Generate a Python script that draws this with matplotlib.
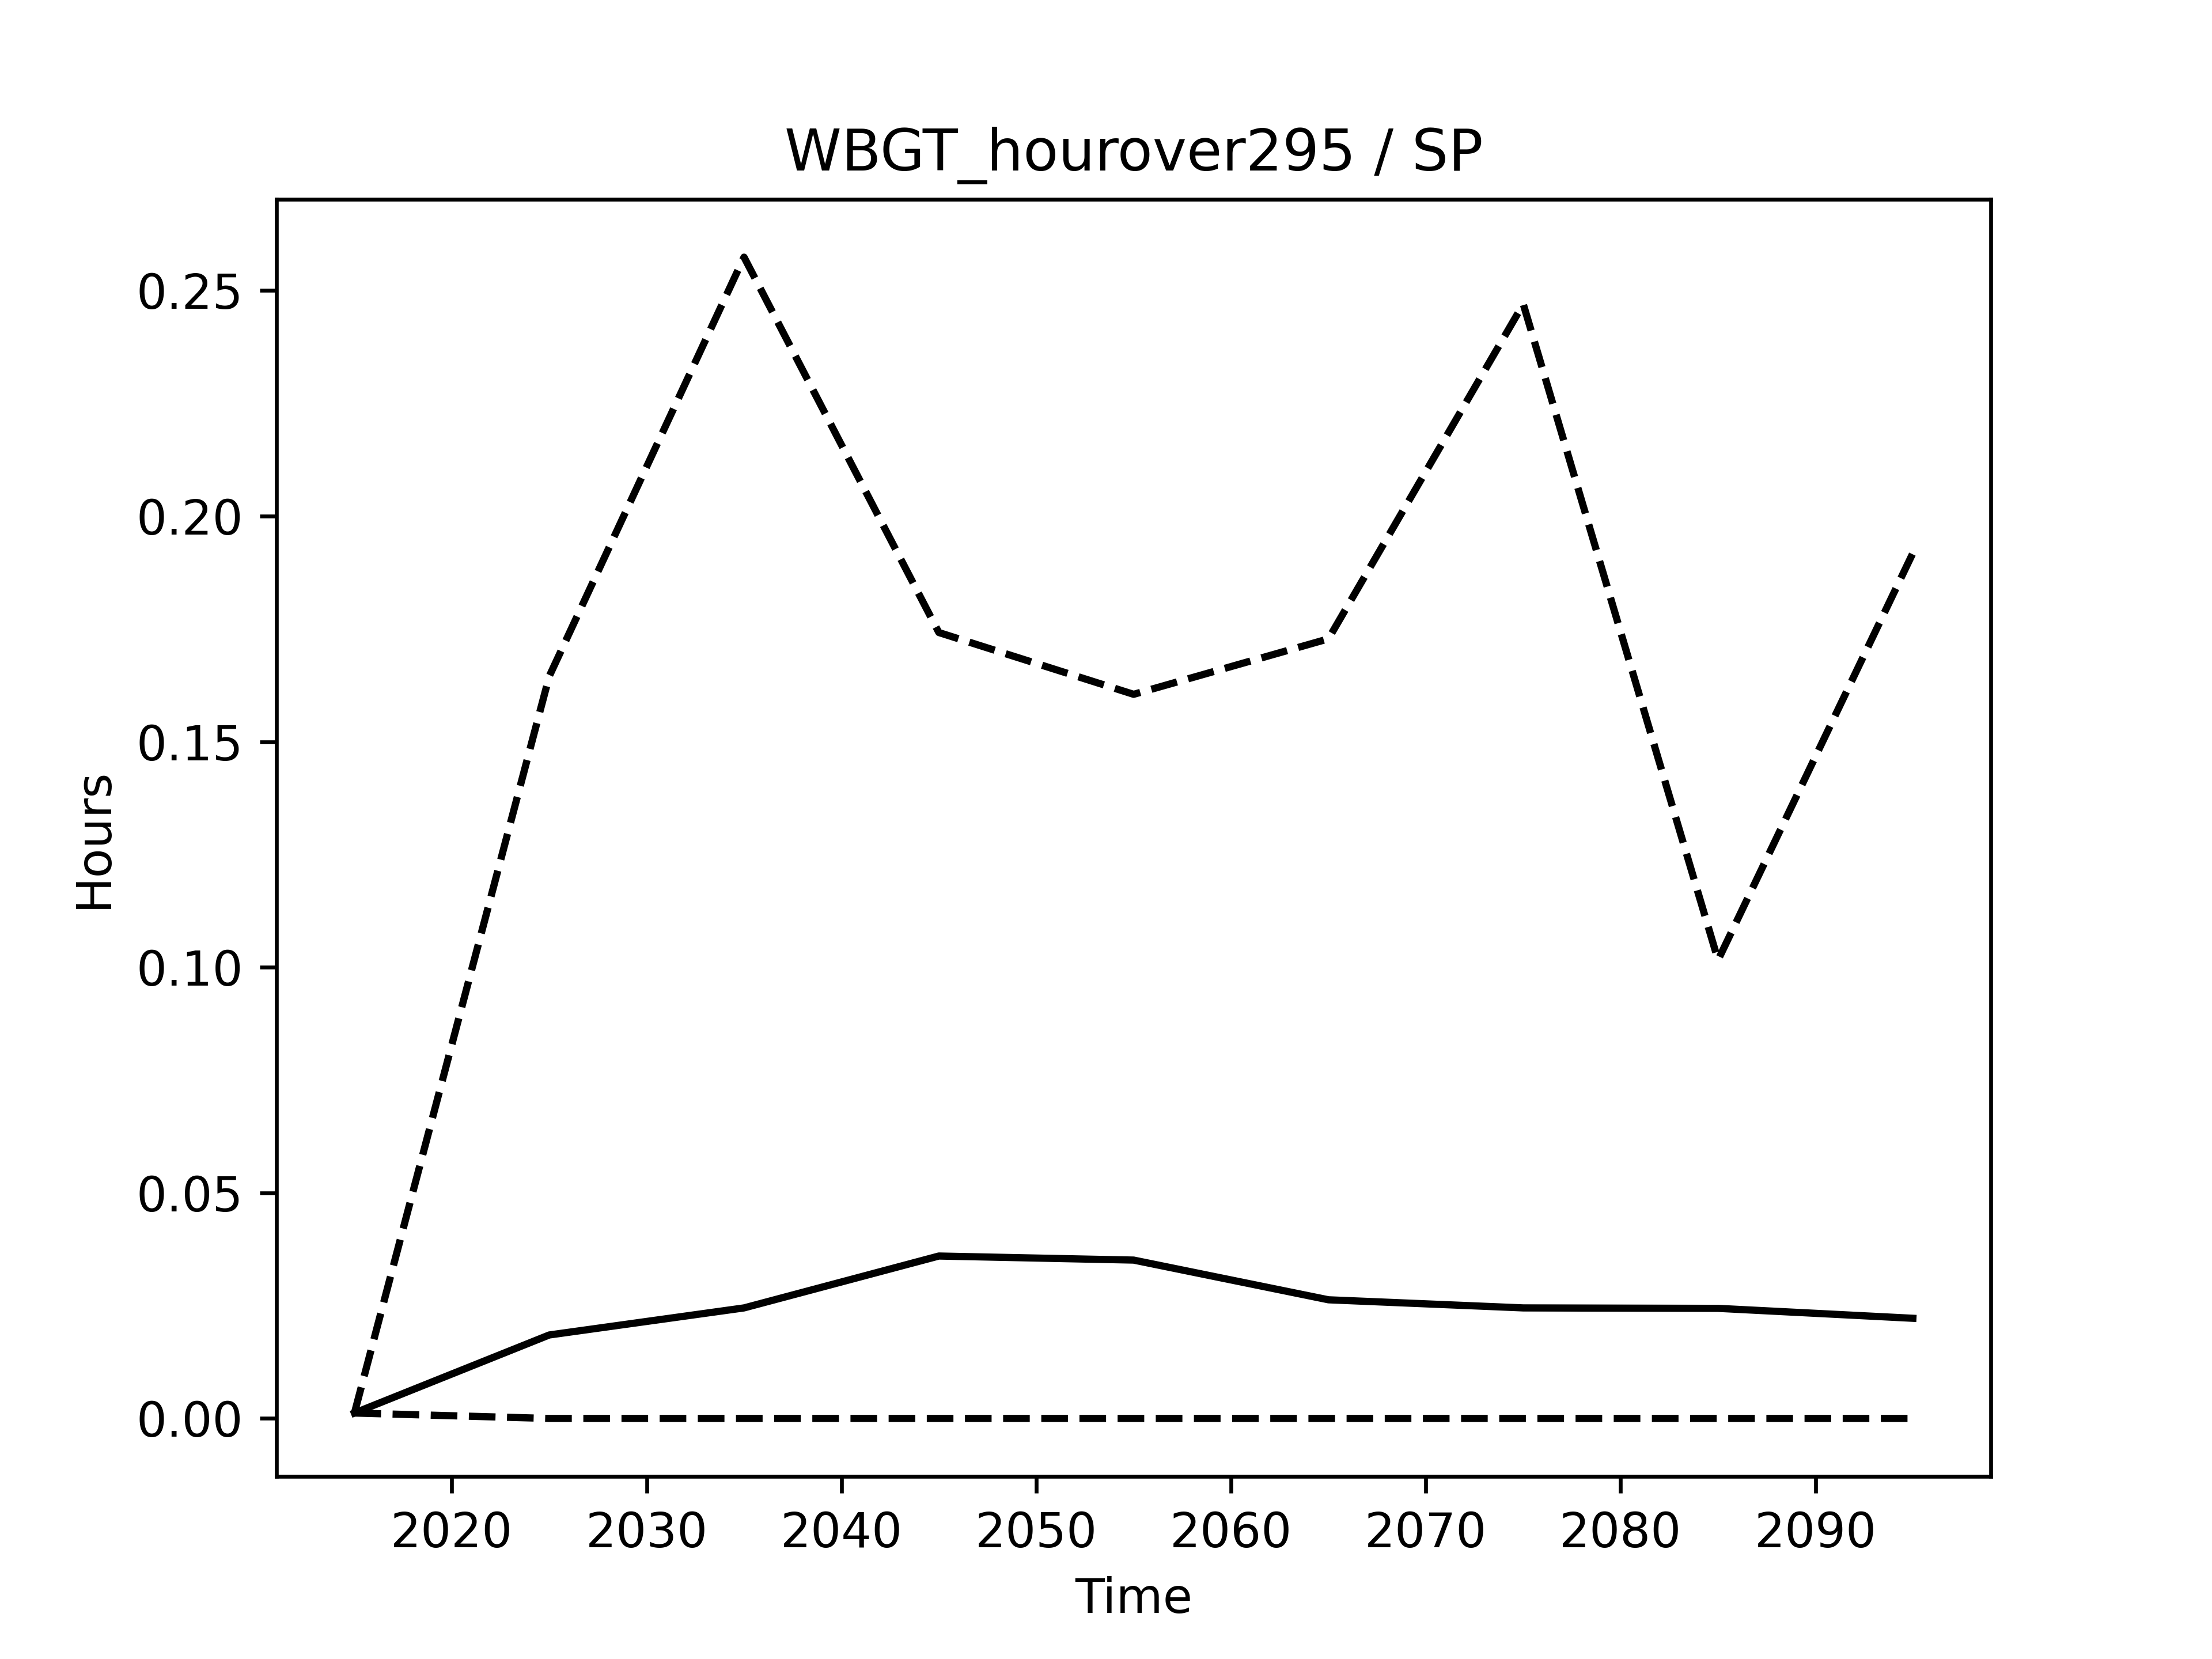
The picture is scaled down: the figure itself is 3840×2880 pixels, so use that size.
import matplotlib
matplotlib.use("Agg")
import matplotlib.pyplot as plt

# decade midpoints
years = [2015, 2025, 2035, 2045, 2055, 2065, 2075, 2085, 2095]

# ensemble mean and min/max envelope
mean_hours = [0.0012, 0.0185, 0.0245, 0.0360, 0.0351, 0.0263, 0.0245, 0.0244, 0.0222]
max_hours = [0.0012, 0.1645, 0.2574, 0.1742, 0.1605, 0.1728, 0.2470, 0.1016, 0.1918]
min_hours = [0.0012, 0.0, 0.0, 0.0, 0.0, 0.0, 0.0, 0.0, 0.0]

fig = plt.figure(figsize=(6.4, 4.8), dpi=600)
plt.plot(years, mean_hours, color="k")
plt.plot(years, max_hours, color="k", linestyle="--")
plt.plot(years, min_hours, color="k", linestyle="--")
plt.title("WBGT_hourover295 / SP")
plt.xlabel("Time")
plt.ylabel("Hours")
plt.savefig("out.png", dpi=600)
